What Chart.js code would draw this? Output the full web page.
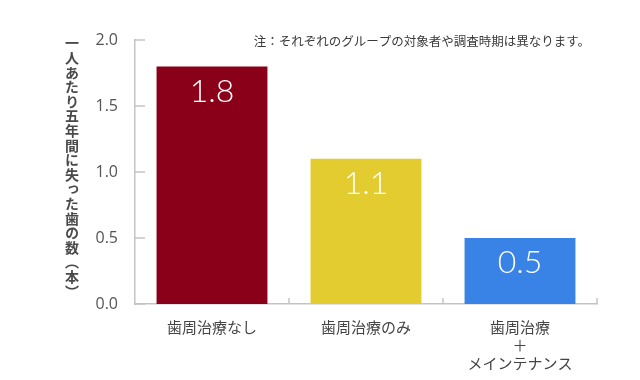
<!DOCTYPE html>
<html>
<head>
<meta charset="utf-8">
<script src="https://cdn.jsdelivr.net/npm/chart.js@4"></script>
<style>
  html, body { margin: 0; padding: 0; background: #fff; }
  #wrap { position: relative; width: 640px; height: 380px; }
  #ytitle {
    position: absolute; left: 65px; top: 36px; height: 275px;
    writing-mode: vertical-rl; text-orientation: upright;
    font-family: "Noto Sans CJK JP", sans-serif; font-size: 14px; font-weight: 700;
    color: #4a4a4a; letter-spacing: 0.6px; line-height: 1;
  }
</style>
</head>
<body>
<div id="wrap">
  <canvas id="chart" width="640" height="380"></canvas>
  <div id="ytitle">一人あたり五年間に失った歯の数（本）</div>
</div>
<script>
// Data
const categories = ['歯周治療なし', '歯周治療のみ', ['歯周治療', '＋', 'メインテナンス']];
const teethLost = [1.8, 1.1, 0.5];
const barColors = ['#8a0018', '#e3cc2f', '#3a83e6'];
const yTicks = [0, 0.5, 1.0, 1.5, 2.0];
const noteText = '注：それぞれのグループの対象者や調査時期は異なります。';

const axisColor = '#c4c4c4';

// Inward tick marks, value labels and the note
const extras = {
    id: 'extras',
    afterDatasetsDraw(chart) {
        const ctx = chart.ctx;
        const x = chart.scales.x;
        const y = chart.scales.y;
        const area = chart.chartArea;
        ctx.save();
        ctx.strokeStyle = axisColor;
        ctx.lineWidth = 1.5;
        // y ticks pointing into the plot
        yTicks.forEach(v => {
            const py = y.getPixelForValue(v);
            ctx.beginPath();
            ctx.moveTo(area.left, py);
            ctx.lineTo(area.left + 10, py);
            ctx.stroke();
        });
        // x category boundary ticks
        const step = x.getPixelForValue(1) - x.getPixelForValue(0);
        for (let i = 0; i < categories.length; i++) {
            const px = x.getPixelForValue(i) + step / 2;
            ctx.beginPath();
            ctx.moveTo(px, area.bottom);
            ctx.lineTo(px, area.bottom - 6);
            ctx.stroke();
        }
        // value labels inside bars
        const meta = chart.getDatasetMeta(0);
        ctx.fillStyle = '#fff';
        ctx.font = '300 32px Lato, "Open Sans", sans-serif';
        ctx.textAlign = 'center';
        ctx.textBaseline = 'middle';
        meta.data.forEach((bar, i) => {
            ctx.fillText(teethLost[i].toFixed(1), bar.x, bar.y + 25);
        });
        // note
        ctx.fillStyle = '#3a3a3a';
        ctx.font = '12.5px "Noto Sans CJK JP", sans-serif';
        ctx.textAlign = 'right';
        ctx.fillText(noteText, 590, 41);
        ctx.restore();
    }
};

new Chart(document.getElementById('chart'), {
    type: 'bar',
    data: {
        labels: categories,
        datasets: [{
            data: teethLost,
            backgroundColor: barColors,
            categoryPercentage: 1,
            barPercentage: 0.72
        }]
    },
    options: {
        responsive: false,
        animation: false,
        layout: { padding: { top: 40, right: 43, left: 0, bottom: 0 } },
        plugins: { legend: { display: false }, tooltip: { enabled: false } },
        scales: {
            x: {
                grid: { display: false },
                border: { color: axisColor, width: 1.5 },
                ticks: {
                    color: '#444',
                    font: { family: '"Noto Sans CJK JP", sans-serif', size: 15 },
                    padding: 6,
                    maxRotation: 0
                },
                afterFit(scale) { scale.height = 76; }
            },
            y: {
                min: 0,
                max: 2,
                afterBuildTicks(scale) { scale.ticks = yTicks.map(v => ({ value: v })); },
                grid: { display: false },
                border: { color: axisColor, width: 1.5 },
                ticks: {
                    color: '#555',
                    font: { family: '"Open Sans", sans-serif', size: 16 },
                    padding: 9,
                    callback: v => v.toFixed(1)
                },
                afterFit(scale) { scale.width = 135; }
            }
        }
    },
    plugins: [extras]
});
</script>
</body>
</html>
